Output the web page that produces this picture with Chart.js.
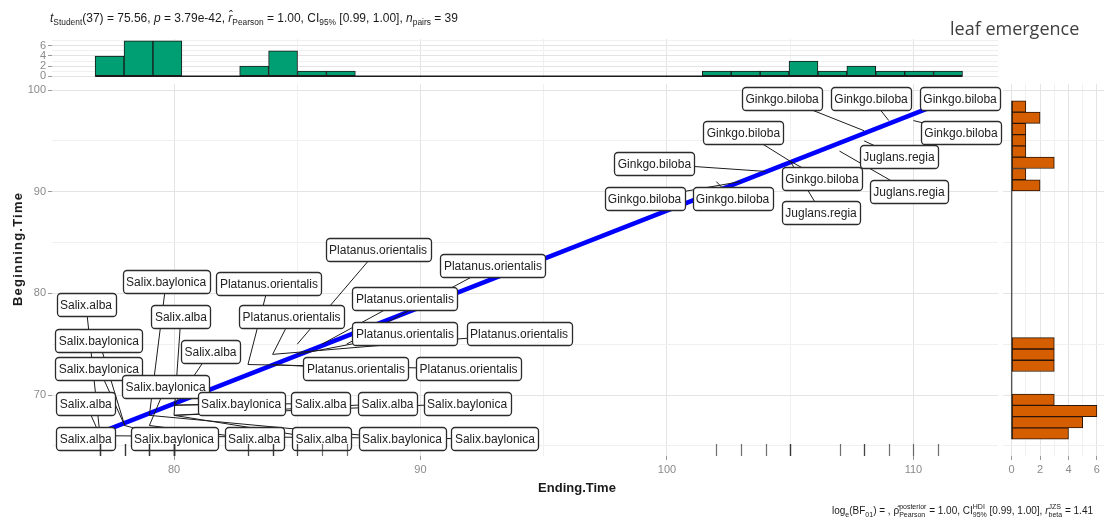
<!DOCTYPE html>
<html>
<head>
<meta charset="utf-8">
<title>leaf emergence</title>
<script src="https://cdn.jsdelivr.net/npm/chart.js@4.4.1/dist/chart.umd.min.js"></script>
<style>
  body { margin: 0; background: #fff; }
  #wrap { position: relative; width: 1105px; height: 528px; overflow: hidden; font-family: "Liberation Sans", Arial, sans-serif; }
  #wrap canvas { position: absolute; left: 0; top: 0; }
  .txt { position: absolute; white-space: nowrap; color: #1a1a1a; line-height: 16px; }
  .txt sub, .txt sup { font-size: 70%; line-height: 0; }
  .pair { display: inline-flex; flex-direction: column; vertical-align: middle; font-size: 70%; line-height: 8px; }
  #stats { left: 50px; top: 10px; font-size: 12px; }
  #caption { right: 12px; top: 503px; font-size: 10px; }
  #tag { left: 950px; top: 16px; font: 18px "Open Sans", sans-serif; color: #404040; }
  #xTitle { left: 577px; top: 480px; transform: translateX(-50%); font-weight: bold; font-size: 13px; }
  #yTitle { left: 18px; top: 249px; transform: translate(-50%, -50%) rotate(-90deg); font-weight: bold; font-size: 13px; letter-spacing: 1.2px; }
</style>
</head>
<body>
<div id="wrap">
  <canvas id="mainPlot" width="1105" height="528"></canvas>
  <canvas id="endHist" width="1105" height="528"></canvas>
  <canvas id="beginHist" width="1105" height="528"></canvas>
  <div id="stats" class="txt"><i>t</i><sub>Student</sub>(37) = 75.56, <i>p</i> = 3.79e-42, <i>r̂</i><sub>Pearson</sub> = 1.00, CI<sub>95%</sub> [0.99, 1.00], <i>n</i><sub>pairs</sub> = 39</div>
  <div id="tag" class="txt">leaf emergence</div>
  <div id="xTitle" class="txt">Ending.Time</div>
  <div id="yTitle" class="txt">Beginning.Time</div>
  <div id="caption" class="txt">log<sub>e</sub>(BF<sub>01</sub>) = , ρ̂<span class="pair"><span>posterior</span><span>Pearson</span></span> = 1.00, CI<span class="pair"><span>HDI</span><span>95%</span></span> [0.99, 1.00], <i>r</i><span class="pair"><span>JZS</span><span>beta</span></span> = 1.41</div>
</div>
<script>
// one row per tree
const species = [
  "Salix.alba", "Salix.baylonica", "Salix.baylonica", "Salix.alba", "Salix.alba",
  "Salix.baylonica", "Salix.alba", "Salix.alba", "Salix.baylonica", "Salix.baylonica",
  "Salix.alba", "Salix.alba", "Salix.baylonica", "Salix.baylonica", "Salix.alba",
  "Salix.alba", "Salix.baylonica", "Salix.baylonica",
  "Platanus.orientalis", "Platanus.orientalis", "Platanus.orientalis", "Platanus.orientalis",
  "Platanus.orientalis", "Platanus.orientalis", "Platanus.orientalis", "Platanus.orientalis",
  "Platanus.orientalis",
  "Ginkgo.biloba", "Ginkgo.biloba", "Ginkgo.biloba", "Ginkgo.biloba", "Ginkgo.biloba",
  "Juglans.regia", "Juglans.regia", "Juglans.regia",
  "Ginkgo.biloba", "Ginkgo.biloba", "Ginkgo.biloba", "Ginkgo.biloba"
];
const endTime = [
  77, 78, 78, 77, 77, 79, 80, 80, 79, 80, 80, 80, 80, 78, 79, 80, 79, 77,
  83, 83, 84, 84, 84, 85, 85, 86, 87,
  102, 103, 104, 105, 105, 105, 107, 108, 108, 109, 110, 111
];
const beginTime = [
  66, 67, 67, 66, 66, 68, 68, 69, 67, 69, 69, 68, 68, 67, 67, 68, 68, 66,
  73, 73, 73, 74, 74, 74, 75, 75, 75,
  91, 91, 92, 93, 93, 93, 94, 95, 96, 97, 97, 98
];

// fitted line, read at the two ends of the data
const fitEnd = [77, 111];
const fitBegin = [66.3, 98.6];

// marginal histograms (30 bins each)
const endHistStart = 76.8;
const endHistWidth = 1.173;
const endHistCounts = [4, 7, 7, 0, 0, 2, 5, 1, 1, 0, 0, 0, 0, 0, 0,
                       0, 0, 0, 0, 0, 0, 1, 1, 1, 3, 1, 2, 1, 1, 1];
const beginHistStart = 65.65;
const beginHistWidth = 1.11;
const beginHistCounts = [4, 5, 6, 3, 0, 0, 3, 3, 3, 0, 0, 0, 0, 0, 0,
                         0, 0, 0, 0, 0, 0, 0, 2, 1, 3, 1, 1, 1, 2, 1];

// where each repelled label box sits (axis units)
const labelAtX = [
  76.43, 76.95, 76.95, 76.42, 76.42, 79.68, 80.28, 81.48, 79.66, 82.72,
  85.95, 88.66, 91.89, 80.00, 83.25, 85.98, 89.25, 93.02,
  83.85, 91.95, 87.38, 84.77, 94.00, 89.37, 88.28, 89.37, 92.94,
  102.66, 99.09, 99.49, 106.29, 103.10, 106.25, 109.82, 109.41,
  104.67, 108.28, 111.93, 111.89
];
const labelAtY = [
  78.86, 75.37, 72.62, 69.17, 65.68, 81.12, 77.68, 74.29, 70.80, 69.17,
  69.17, 69.17, 69.17, 65.68, 65.68, 65.68, 65.68, 65.68,
  80.99, 72.57, 72.57, 77.68, 76.01, 76.01, 84.32, 79.45, 82.74,
  89.35, 89.35, 92.75, 91.30, 95.87, 88.00, 90.07, 93.44,
  99.21, 99.21, 95.87, 99.21
];

const X_RANGE = [75.05, 113.43];
const Y_RANGE = [64.0, 100.6];

Chart.defaults.font.family = '"Liberation Sans", Arial, sans-serif';
Chart.defaults.animation = false;
Chart.defaults.events = [];
Chart.defaults.plugins.legend.display = false;
Chart.defaults.plugins.tooltip.enabled = false;

const TICK_GREY = '#8a8a8a';
const isStep = (v, step) => Math.abs(v / step - Math.round(v / step)) < 1e-6;
const gridTone = step => ctx => (ctx.tick && isStep(ctx.tick.value, step)) ? '#e4e4e4' : '#f0f0f0';
const tickTone = step => ctx => (ctx.tick && isStep(ctx.tick.value, step)) ? '#9a9a9a' : 'rgba(0,0,0,0)';
const everyOther = step => v => isStep(v, step) ? String(v) : '';

function boxPath(ctx, x, y, w, h, r) {
  ctx.beginPath();
  ctx.moveTo(x + r, y);
  ctx.lineTo(x + w - r, y);
  ctx.arcTo(x + w, y, x + w, y + r, r);
  ctx.lineTo(x + w, y + h - r);
  ctx.arcTo(x + w, y + h, x + w - r, y + h, r);
  ctx.lineTo(x + r, y + h);
  ctx.arcTo(x, y + h, x, y + h - r, r);
  ctx.lineTo(x, y + r);
  ctx.arcTo(x, y, x + r, y, r);
  ctx.closePath();
}

// leader segments first, then the white label boxes on top
const repelLabels = {
  id: 'repelLabels',
  afterDatasetsDraw(chart) {
    const { ctx, scales: { x, y } } = chart;
    ctx.save();
    ctx.font = '12px "Liberation Sans", Arial, sans-serif';
    const boxes = species.map((name, i) => {
      const w = Math.round(ctx.measureText(name).width + 7);
      return {
        name, w, h: 23,
        cx: x.getPixelForValue(labelAtX[i]),
        cy: y.getPixelForValue(labelAtY[i]),
        px: x.getPixelForValue(endTime[i]),
        py: y.getPixelForValue(beginTime[i])
      };
    });
    ctx.strokeStyle = '#1c1c1c';
    ctx.lineWidth = 1;
    boxes.forEach(b => {
      ctx.beginPath();
      ctx.moveTo(b.px, b.py);
      ctx.lineTo(b.cx, b.cy);
      ctx.stroke();
    });
    ctx.textAlign = 'center';
    ctx.textBaseline = 'middle';
    boxes.forEach(b => {
      const left = Math.round(b.cx - b.w / 2) + 0.5;
      const top = Math.round(b.cy - b.h / 2) + 0.5;
      boxPath(ctx, left, top, b.w, b.h, 3.5);
      ctx.fillStyle = '#ffffff';
      ctx.fill();
      ctx.strokeStyle = '#2b2b2b';
      ctx.lineWidth = 1.3;
      ctx.stroke();
      ctx.fillStyle = '#222222';
      ctx.fillText(b.name, b.cx, top + b.h / 2 + 0.5);
    });
    ctx.restore();
  }
};

// rug of Ending.Time along the bottom edge
const bottomRug = {
  id: 'bottomRug',
  afterDraw(chart) {
    const { ctx, chartArea, scales: { x } } = chart;
    ctx.save();
    ctx.strokeStyle = 'rgba(50,50,50,0.7)';
    ctx.lineWidth = 1.2;
    endTime.forEach(v => {
      const px = Math.round(x.getPixelForValue(v)) + 0.5;
      ctx.beginPath();
      ctx.moveTo(px, chartArea.bottom - 12);
      ctx.lineTo(px, chartArea.bottom);
      ctx.stroke();
    });
    ctx.restore();
  }
};

new Chart(document.getElementById('mainPlot'), {
  type: 'scatter',
  data: {
    datasets: [
      {
        type: 'line',
        data: fitEnd.map((v, i) => ({ x: v, y: fitBegin[i] })),
        borderColor: '#0000ff',
        borderWidth: 4.5,
        pointRadius: 0
      },
      {
        data: endTime.map((v, i) => ({ x: v, y: beginTime[i] })),
        pointRadius: 0
      }
    ]
  },
  options: {
    responsive: false,
    layout: { padding: { left: 0, top: 84, right: 107, bottom: 0 } },
    scales: {
      x: {
        type: 'linear', min: X_RANGE[0], max: X_RANGE[1],
        afterFit: s => { s.height = 72; },
        border: { display: false },
        grid: { color: gridTone(10), tickLength: 4, tickColor: tickTone(10) },
        ticks: { stepSize: 5, includeBounds: false, autoSkip: false, maxRotation: 0,
                 callback: everyOther(10), color: TICK_GREY, font: { size: 11 }, padding: 3 }
      },
      y: {
        type: 'linear', min: Y_RANGE[0], max: Y_RANGE[1],
        afterFit: s => { s.width = 52; },
        border: { display: false },
        grid: { color: gridTone(10), tickLength: 4, tickColor: tickTone(10) },
        ticks: { stepSize: 5, includeBounds: false, autoSkip: false,
                 callback: everyOther(10), color: TICK_GREY, font: { size: 11 }, padding: 2 }
      }
    }
  },
  plugins: [repelLabels, bottomRug]
});

// top margin: Ending.Time histogram
new Chart(document.getElementById('endHist'), {
  type: 'bar',
  data: {
    datasets: [
      {
        data: endHistCounts.map((c, k) => ({ x: endHistStart + (k + 0.5) * endHistWidth, y: c })),
        backgroundColor: '#009E73',
        borderColor: '#1a1a1a',
        borderWidth: 1,
        borderSkipped: false,
        barPercentage: 1,
        categoryPercentage: 1
      },
      {
        type: 'line',
        data: [
          { x: endHistStart, y: 0 },
          { x: endHistStart + endHistCounts.length * endHistWidth, y: 0 }
        ],
        borderColor: '#1a1a1a',
        borderWidth: 1.6,
        pointRadius: 0
      }
    ]
  },
  options: {
    responsive: false,
    layout: { padding: { left: 0, top: 39, right: 107, bottom: 450 } },
    scales: {
      x: {
        type: 'linear', min: X_RANGE[0], max: X_RANGE[1], offset: false,
        afterFit: s => { s.height = 0; },
        border: { display: false },
        grid: { color: gridTone(10), drawTicks: false, offset: false },
        ticks: { display: false, stepSize: 5, includeBounds: false }
      },
      y: {
        type: 'linear', min: -0.35, max: 7.35,
        afterFit: s => { s.width = 52; },
        border: { display: false },
        grid: { color: gridTone(2), tickLength: 4, tickColor: tickTone(2) },
        ticks: { stepSize: 1, includeBounds: false, autoSkip: false,
                 callback: everyOther(2), color: TICK_GREY, font: { size: 11 }, padding: 2 }
      }
    }
  }
});

// right margin: Beginning.Time histogram
new Chart(document.getElementById('beginHist'), {
  type: 'bar',
  data: {
    datasets: [
      {
        data: beginHistCounts.map((c, k) => ({ x: c, y: beginHistStart + (k + 0.5) * beginHistWidth })),
        backgroundColor: '#D55E00',
        borderColor: '#2a1608',
        borderWidth: 1,
        borderSkipped: false,
        barPercentage: 1,
        categoryPercentage: 1
      },
      {
        type: 'line',
        data: [
          { x: 0, y: beginHistStart },
          { x: 0, y: beginHistStart + beginHistCounts.length * beginHistWidth }
        ],
        borderColor: '#555555',
        borderWidth: 1.4,
        pointRadius: 0
      }
    ]
  },
  options: {
    responsive: false,
    indexAxis: 'y',
    layout: { padding: { left: 1003, top: 84, right: 1, bottom: 0 } },
    scales: {
      x: {
        type: 'linear', min: -0.61, max: 6.5,
        afterFit: s => { s.height = 72; },
        border: { display: false },
        grid: { color: gridTone(2), tickLength: 4, tickColor: tickTone(2) },
        ticks: { stepSize: 1, includeBounds: false, autoSkip: false, maxRotation: 0,
                 callback: everyOther(2), color: TICK_GREY, font: { size: 11 }, padding: 3 }
      },
      y: {
        type: 'linear', min: Y_RANGE[0], max: Y_RANGE[1], offset: false,
        afterFit: s => { s.width = 0; },
        border: { display: false },
        grid: { color: gridTone(10), drawTicks: false, offset: false },
        ticks: { display: false, stepSize: 5, includeBounds: false }
      }
    }
  }
});
</script>
</body>
</html>
